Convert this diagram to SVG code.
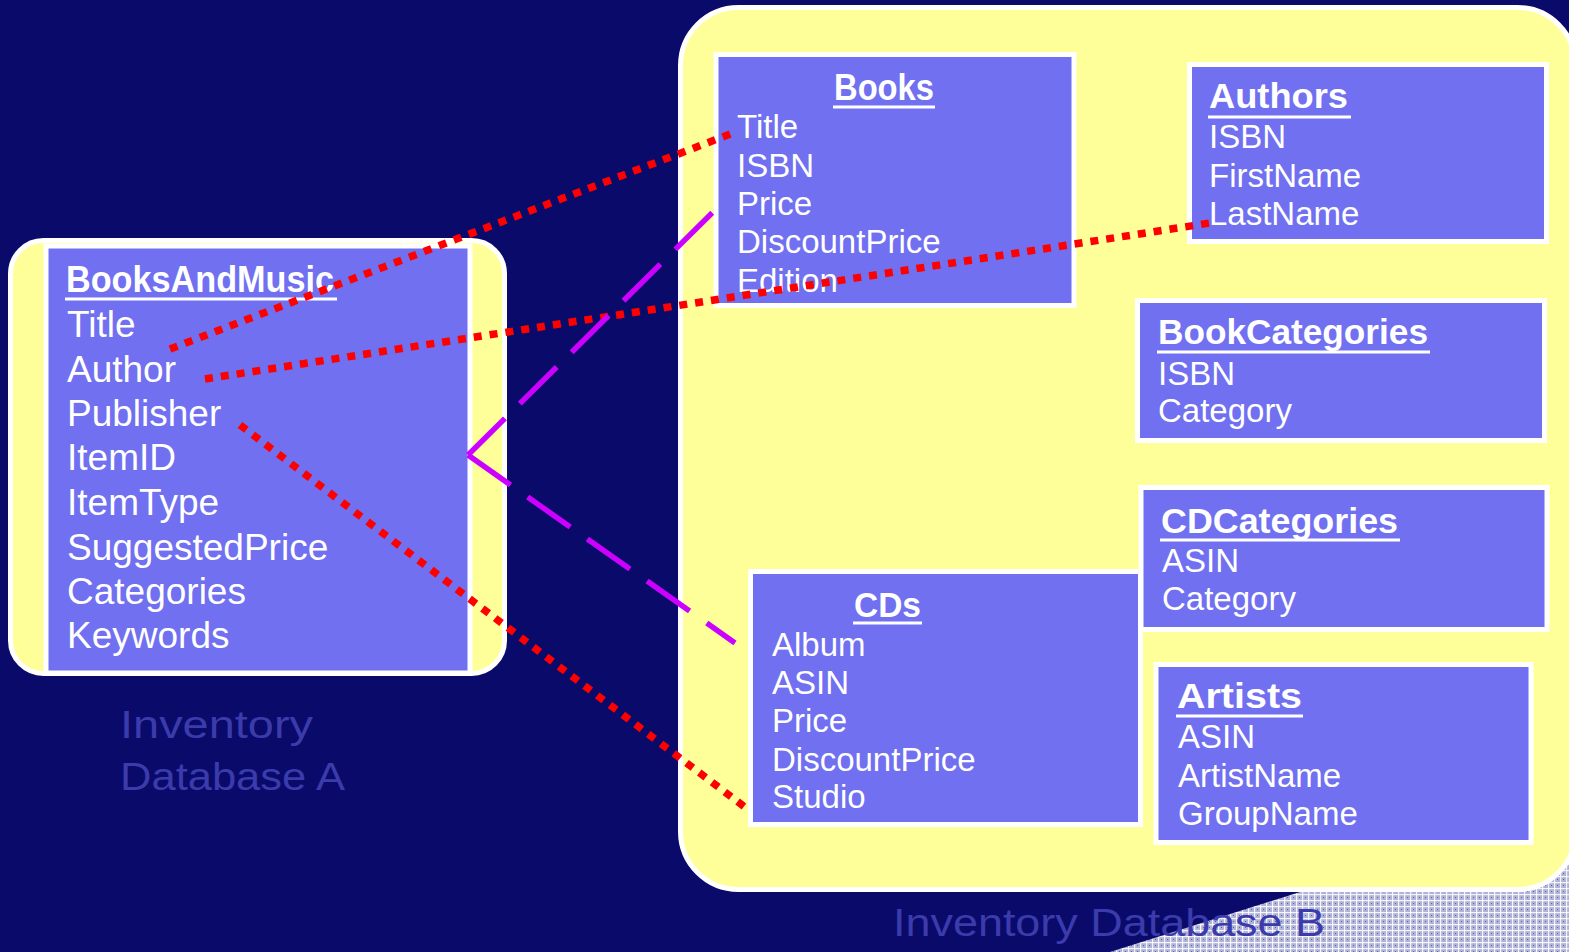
<svg xmlns="http://www.w3.org/2000/svg" width="1569" height="952" viewBox="0 0 1569 952">
<defs>
<pattern id="grid" x="0" y="0" width="6" height="6" patternUnits="userSpaceOnUse">
<rect width="6" height="6" fill="#b0b2d6"/>
<rect width="6" height="1.2" fill="#ffffff" fill-opacity="0.85"/>
<rect width="1.2" height="6" fill="#ffffff" fill-opacity="0.85"/>
<rect x="3" y="3" width="1" height="1" fill="#5c5cb0"/>
</pattern>
<style>
.db{fill:#ffff99;stroke:#ffffff;stroke-width:5}
.tbl{fill:#7070f0;stroke:#ffffff;stroke-width:5}
.t{font-family:"Liberation Sans",Arial,sans-serif;fill:#ffffff}
.f{font-size:33px}
.fa{font-size:37px}
.h{font-size:35px;font-weight:bold}
.ul{stroke:#ffffff;stroke-width:3}
.lbl{font-family:"Liberation Sans",Arial,sans-serif;font-size:38px;fill:#3b3bab}
.red{fill:none;stroke:#ff0000;stroke-width:7.5;stroke-dasharray:8 8}
.pur{fill:none;stroke:#cc00ff;stroke-width:5.5;stroke-dasharray:52 21}
</style>
</defs>
<rect width="1569" height="952" fill="#0a0a6a"/>
<polygon points="1110,952 1569,807 1569,952" fill="url(#grid)"/>
<text class="lbl" x="120" y="738" textLength="193" lengthAdjust="spacingAndGlyphs">Inventory</text>
<text class="lbl" x="120" y="790" textLength="225" lengthAdjust="spacingAndGlyphs">Database A</text>
<text class="lbl" x="893" y="936" textLength="432" lengthAdjust="spacingAndGlyphs">Inventory Database B</text>

<g id="dbA"><rect class="db" x="10.5" y="240.5" width="494" height="433" rx="33"/></g>
<g id="dbB"><rect class="db" x="680.5" y="7.5" width="895" height="882" rx="58"/></g>

<g id="BooksAndMusic">
<rect class="tbl" x="46" y="246" width="424" height="427"/>
<text class="t h" x="66" y="292" textLength="268" lengthAdjust="spacingAndGlyphs" style="font-size:37px">BooksAndMusic</text>
<line class="ul" x1="65" y1="299" x2="337" y2="299"/>
<text class="t fa" x="67" y="337">Title</text>
<text class="t fa" x="67" y="382">Author</text>
<text class="t fa" x="67" y="426">Publisher</text>
<text class="t fa" x="67" y="470">ItemID</text>
<text class="t fa" x="67" y="515">ItemType</text>
<text class="t fa" x="67" y="560">SuggestedPrice</text>
<text class="t fa" x="67" y="604">Categories</text>
<text class="t fa" x="67" y="648">Keywords</text>
</g>

<g id="Books">
<rect class="tbl" x="716" y="54.5" width="358" height="251"/>
<text class="t h" x="834" y="100" textLength="100" lengthAdjust="spacingAndGlyphs" style="font-size:37px">Books</text>
<line class="ul" x1="833" y1="107" x2="935" y2="107"/>
<text class="t f" x="737" y="138">Title</text>
<text class="t f" x="737" y="177">ISBN</text>
<text class="t f" x="737" y="215">Price</text>
<text class="t f" x="737" y="253">DiscountPrice</text>
<text class="t f" x="737" y="292">Edition</text>
</g>

<g id="Authors">
<rect class="tbl" x="1189.5" y="64.5" width="357" height="177"/>
<text class="t h" x="1209" y="108" textLength="139" lengthAdjust="spacingAndGlyphs">Authors</text>
<line class="ul" x1="1208" y1="117" x2="1351" y2="117"/>
<text class="t f" x="1209" y="148">ISBN</text>
<text class="t f" x="1209" y="187">FirstName</text>
<text class="t f" x="1209" y="225">LastName</text>
</g>

<g id="BookCategories">
<rect class="tbl" x="1137.5" y="300.5" width="407" height="140"/>
<text class="t h" x="1158" y="344" textLength="270" lengthAdjust="spacingAndGlyphs">BookCategories</text>
<line class="ul" x1="1157" y1="352" x2="1430" y2="352"/>
<text class="t f" x="1158" y="385">ISBN</text>
<text class="t f" x="1158" y="422">Category</text>
</g>

<g id="CDCategories">
<rect class="tbl" x="1141" y="487.5" width="406" height="142"/>
<text class="t h" x="1161" y="533" textLength="237" lengthAdjust="spacingAndGlyphs">CDCategories</text>
<line class="ul" x1="1160" y1="540" x2="1400" y2="540"/>
<text class="t f" x="1162" y="572">ASIN</text>
<text class="t f" x="1162" y="610">Category</text>
</g>

<g id="CDs">
<rect class="tbl" x="750.5" y="571.5" width="390" height="253"/>
<text class="t h" x="854" y="617" textLength="67" lengthAdjust="spacingAndGlyphs">CDs</text>
<line class="ul" x1="853" y1="623" x2="922" y2="623"/>
<text class="t f" x="772" y="656">Album</text>
<text class="t f" x="772" y="694">ASIN</text>
<text class="t f" x="772" y="732">Price</text>
<text class="t f" x="772" y="771">DiscountPrice</text>
<text class="t f" x="772" y="808">Studio</text>
</g>

<g id="Artists">
<rect class="tbl" x="1156" y="664.5" width="375" height="178"/>
<text class="t h" x="1177" y="708" textLength="125" lengthAdjust="spacingAndGlyphs">Artists</text>
<line class="ul" x1="1176" y1="716" x2="1303" y2="716"/>
<text class="t f" x="1178" y="748">ASIN</text>
<text class="t f" x="1178" y="787">ArtistName</text>
<text class="t f" x="1178" y="825">GroupName</text>
</g>

<g id="connectors">
<line class="red" x1="170" y1="349" x2="733" y2="133"/>
<line class="red" x1="205" y1="379" x2="1210" y2="223"/>
<line class="red" x1="240" y1="425" x2="750" y2="811"/>
<line class="pur" x1="468" y1="455" x2="713" y2="212"/>
<line class="pur" x1="468" y1="455" x2="735" y2="643"/>
</g>
</svg>
